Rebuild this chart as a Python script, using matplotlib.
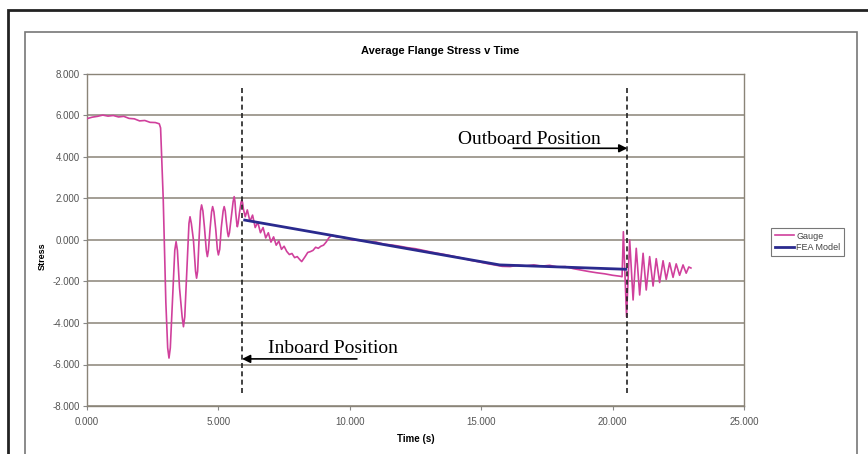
import matplotlib
matplotlib.use("Agg")
import matplotlib.pyplot as plt
from matplotlib.patches import Rectangle
from matplotlib.ticker import FixedLocator, FuncFormatter

plt.rcParams['font.family'] = ['Liberation Sans', 'DejaVu Sans']

# gauge trace (time s, stress)
gauge_t = [0.0, 0.2, 0.4, 0.6, 0.8, 1.0, 1.2, 1.4, 1.6, 1.8, 2.0, 2.2, 2.4, 2.6, 2.75,
           2.8, 2.9, 3.0, 3.07, 3.12, 3.17, 3.25, 3.34, 3.39, 3.44,
           3.52, 3.62, 3.67, 3.72, 3.8, 3.88, 3.92, 3.97, 4.05, 4.13,
           4.17, 4.21, 4.27, 4.32, 4.36, 4.41, 4.47, 4.54, 4.58, 4.62,
           4.68, 4.74, 4.78, 4.83, 4.9, 4.96, 5.0, 5.05, 5.11, 5.18,
           5.22, 5.26, 5.3, 5.35, 5.38, 5.42, 5.5, 5.56, 5.6, 5.63,
           5.66, 5.7, 5.72, 5.75, 5.8, 5.86, 5.89, 5.92, 5.95, 6.02,
           6.1, 6.2, 6.3, 6.4, 6.5, 6.6, 6.7, 6.8, 6.9, 7.0, 7.1,
           7.2, 7.3, 7.4, 7.5, 7.6, 7.7, 7.8, 7.9, 8.0, 8.1, 8.17, 8.3, 8.4, 8.5, 8.6, 8.7,
           8.8, 8.9, 9.0, 9.1, 9.2, 9.32, 9.5, 9.8, 10.1, 10.4, 10.7, 11.0, 11.3, 11.6,
           11.9, 12.2, 12.5, 12.8, 13.1, 13.4, 13.7, 14.0, 14.3, 14.6, 14.9, 15.2, 15.5,
           15.8, 16.1, 16.4, 16.7, 17.0, 17.3, 17.6, 17.9, 18.2, 18.5, 18.8, 19.1, 19.4,
           19.7, 20.0, 20.3, 20.36, 20.41, 20.53, 20.65, 20.78, 20.9, 21.03, 21.16, 21.28,
           21.41, 21.54, 21.66, 21.79, 21.92, 22.04, 22.17, 22.3, 22.42, 22.55, 22.68,
           22.8, 22.9, 22.98]
gauge_s = [5.85, 5.92, 5.96, 6.02, 5.97, 6.0, 5.93, 5.96, 5.86, 5.84, 5.74, 5.76, 5.67, 5.66, 5.6,
           5.4, 2.0, -3.0, -5.2, -5.69, -5.2, -3.0, -0.5, -0.08, -0.5,
           -2.3, -3.7, -4.18, -3.7, -1.5, 0.8, 1.12, 0.8, 0.0, -1.5,
           -1.84, -1.5, 0.2, 1.4, 1.69, 1.4, 0.6, -0.5, -0.80, -0.5,
           0.5, 1.35, 1.61, 1.35, 0.5, -0.45, -0.72, -0.45, 0.6, 1.4,
           1.61, 1.4, 0.9, 0.35, 0.16, 0.35, 1.2, 1.85, 2.09, 1.85,
           1.3, 0.8, 0.64, 0.8, 1.3, 1.8, 1.93, 1.8, 1.5, 1.12,
           1.45, 0.9, 1.2, 0.6, 0.85, 0.35, 0.6, 0.1, 0.35, -0.1, 0.15,
           -0.25, -0.05, -0.45, -0.3, -0.55, -0.7, -0.65, -0.85, -0.8, -0.95, -1.04, -0.8, -0.6, -0.56, -0.5, -0.35,
           -0.4, -0.3, -0.25, -0.1, 0.1, 0.24, 0.15, 0.12, 0.0, -0.02, -0.08, -0.1, -0.2, -0.24,
           -0.3, -0.37, -0.42, -0.5, -0.58, -0.65, -0.72, -0.8, -0.88, -0.98, -1.05, -1.13, -1.2,
           -1.27, -1.28, -1.22, -1.25, -1.2, -1.26, -1.22, -1.3, -1.28, -1.38, -1.45, -1.52, -1.58,
           -1.63, -1.7, -1.75, -1.77, 0.40, -3.70, 0.0, -2.89, -0.40, -2.65, -0.64, -2.41,
           -0.80, -2.22, -0.9, -2.05, -1.0, -1.9, -1.1, -1.8, -1.15, -1.7, -1.2,
           -1.6, -1.3, -1.35]

# FEA model
fea_t = [6.0, 15.7, 20.5]
fea_s = [0.96, -1.2, -1.41]

x_ticks = [0, 5, 10, 15, 20, 25]
y_ticks = [-8, -6, -4, -2, 0, 2, 4, 6, 8]

inboard_t = 5.9
outboard_t = 20.56

W, H = 868, 454
fig = plt.figure(figsize=(W / 100, H / 100), dpi=100)
ax = fig.add_axes([87 / W, 1 - 406 / H, (744 - 87) / W, (406 - 74) / H])

grid_col = '#8a8478'
for y in y_ticks:
    ax.axhline(y, color=grid_col, lw=1.1, zorder=1)

ax.plot(gauge_t, gauge_s, color='#d0409c', lw=1.2, label='Gauge', zorder=3)
ax.plot(fea_t, fea_s, color='#2a2a8e', lw=2.0, label='FEA Model', zorder=4)

for t in [inboard_t, outboard_t]:
    ax.plot([t, t], [-7.37, 7.42], color='#222222', lw=1.2, ls=(0, (3, 2)), zorder=5)

ax.annotate('', xy=(outboard_t, 4.42), xytext=(16.22, 4.42),
            arrowprops=dict(arrowstyle='-|>', color='black', lw=1.2, mutation_scale=12,
                            shrinkA=0, shrinkB=0), zorder=6)
ax.text(14.13, 4.63, 'Outboard Position', family='Liberation Serif', fontsize=14,
        ha='left', va='baseline', zorder=6)
ax.annotate('', xy=(inboard_t, -5.73), xytext=(10.27, -5.73),
            arrowprops=dict(arrowstyle='-|>', color='black', lw=1.2, mutation_scale=12,
                            shrinkA=0, shrinkB=0), zorder=6)
ax.text(6.9, -5.46, 'Inboard Position', family='Liberation Serif', fontsize=14,
        ha='left', va='baseline', zorder=6)

ax.set_xlim(0, 25)
ax.set_ylim(-8, 8)
ax.xaxis.set_major_locator(FixedLocator(x_ticks))
ax.yaxis.set_major_locator(FixedLocator(y_ticks))
ax.xaxis.set_major_formatter(FuncFormatter(lambda v, p: '%.3f' % v))
ax.yaxis.set_major_formatter(FuncFormatter(lambda v, p: '%.3f' % v))
ax.tick_params(axis='both', labelsize=7, labelcolor='#555555', color='#888888',
               length=3, width=0.8)
ax.tick_params(axis='x', pad=5)
ax.tick_params(axis='y', pad=2)
for sp in ax.spines.values():
    sp.set_color('#8a8478')
    sp.set_linewidth(1.0)

ax.set_xlabel('Time (s)', fontsize=7, fontweight='bold', labelpad=5)
fig.text(42 / W, 1 - 256 / H, 'Stress', rotation=90, fontsize=6.5, fontweight='bold',
         ha='center', va='center')
fig.text(440 / W, 1 - 51 / H, 'Average Flange Stress v Time', fontsize=8,
         fontweight='bold', ha='center', va='center')

leg = ax.legend(loc='upper left', bbox_to_anchor=(771 / W, 1 - 228 / H),
                bbox_transform=fig.transFigure, fontsize=6.5, frameon=True,
                fancybox=False, borderaxespad=0, handlelength=2.2, handletextpad=0.2,
                borderpad=0.4, labelspacing=0.3)
leg.get_frame().set_edgecolor('#555555')
leg.get_frame().set_linewidth(0.8)
for txt in leg.get_texts():
    txt.set_color('#444444')

# outer frame and chart area border
fig.patches.append(Rectangle((8 / W, -0.05), 1.1, 1 - 10 / H + 0.05, transform=fig.transFigure,
                             fill=False, ec='#222222', lw=2))
fig.patches.append(Rectangle((25 / W, -0.05), (857 - 25) / W, 1 - 32 / H + 0.05,
                             transform=fig.transFigure, fill=False, ec='#777777', lw=1.2))

fig.savefig('out.png', dpi=100)
